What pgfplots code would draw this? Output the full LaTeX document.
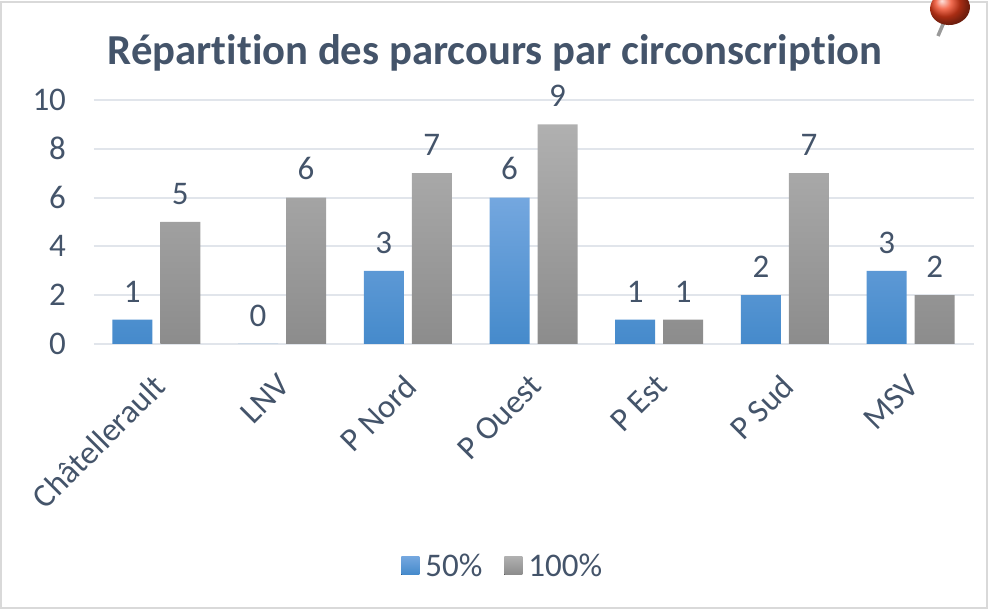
\documentclass[border=0pt]{standalone}
\usepackage{pgfplots}
\pgfplotsset{compat=1.18}
\usepackage{fontspec}
\setmainfont[Ligatures=CommonOff]{Carlito}
\definecolor{txt}{HTML}{44546A}
\definecolor{gridc}{HTML}{E1E5EB}
\definecolor{frameg}{HTML}{D9D9D9}
\definecolor{blueT}{HTML}{74A7DF}
\definecolor{blueB}{HTML}{458ACB}
\definecolor{greyT}{HTML}{B0B0B0}
\definecolor{greyB}{HTML}{8C8C8C}
\definecolor{pinred}{HTML}{F0401C}
\begin{document}
\begin{tikzpicture}[x=1pt,y=1pt]
\useasboundingbox (0,0) rectangle (988,610);
\draw[frameg,line width=2pt] (1,2) -- (1,608) -- (987,608) -- (987,2) -- cycle;
\begin{axis}[
  at={(93.5pt,266pt)},anchor=south west,
  scale only axis,width=880pt,height=244pt,
  xmin=-0.5,xmax=6.5,ymin=0,ymax=10,
  ybar,bar width=40pt,
  clip=false,
  axis line style={draw=none},
  major tick length=0pt,
  ytick={0,2,...,10},
  xtick=data,
  xticklabels={Châtellerault,LNV,P Nord,P Ouest,P Est,P Sud,MSV},
  ymajorgrids,
  grid style={gridc,line width=2pt},
  /pgf/number format/assume math mode=true,
  tick label style={font=\fontsize{33}{33}\selectfont,text=txt},
  yticklabel style={xshift=-24pt},
  xticklabel style={rotate=45,anchor=north east,font=\fontsize{33}{33}\selectfont,yshift=-13pt,xshift=-20.5pt},
  nodes near coords,
  every node near coord/.append style={font=\fontsize{33}{33}\selectfont,text=txt,/pgf/number format/assume math mode=true,yshift=14pt},
  legend columns=2,
  legend style={anchor=center,draw=none,fill=none,
    font=\fontsize{33}{33}\selectfont,text=txt,
    /tikz/every even column/.append style={column sep=20pt},
    at={(axis description cs:0.465,-0.908)}},
]
\addplot[draw=none,top color=blueT,bottom color=blueB,bar shift=-24pt,
  legend image code/.code={\fill[top color=blueT,bottom color=blueB] (0pt,-9pt) rectangle (18pt,9pt);\path (18pt,0pt) -- (22pt,0pt);}]
  coordinates {(0,1)(1,0)(2,3)(3,6)(4,1)(5,2)(6,3)};
\addplot[draw=none,top color=greyT,bottom color=greyB,bar shift=24pt,
  legend image code/.code={\fill[top color=greyT,bottom color=greyB] (0pt,-9pt) rectangle (18pt,9pt);\path (18pt,0pt) -- (22pt,0pt);}]
  coordinates {(0,5)(1,6)(2,7)(3,9)(4,1)(5,7)(6,2)};
\legend{50\%,100\%}
\end{axis}
\node[anchor=base,text=txt,font=\fontsize{42.7}{43}\selectfont\bfseries] at (495,545.5) {Répartition des parcours par circonscription};
% pushpin decoration
\draw[line width=3.5pt,color=gray!80] (944,588) -- (938,574);
\begin{scope}[rotate around={8:(950,602)}]
\shade[ball color=pinred] (950,602) ellipse (20 and 17);
\end{scope}
\end{tikzpicture}
\end{document}
